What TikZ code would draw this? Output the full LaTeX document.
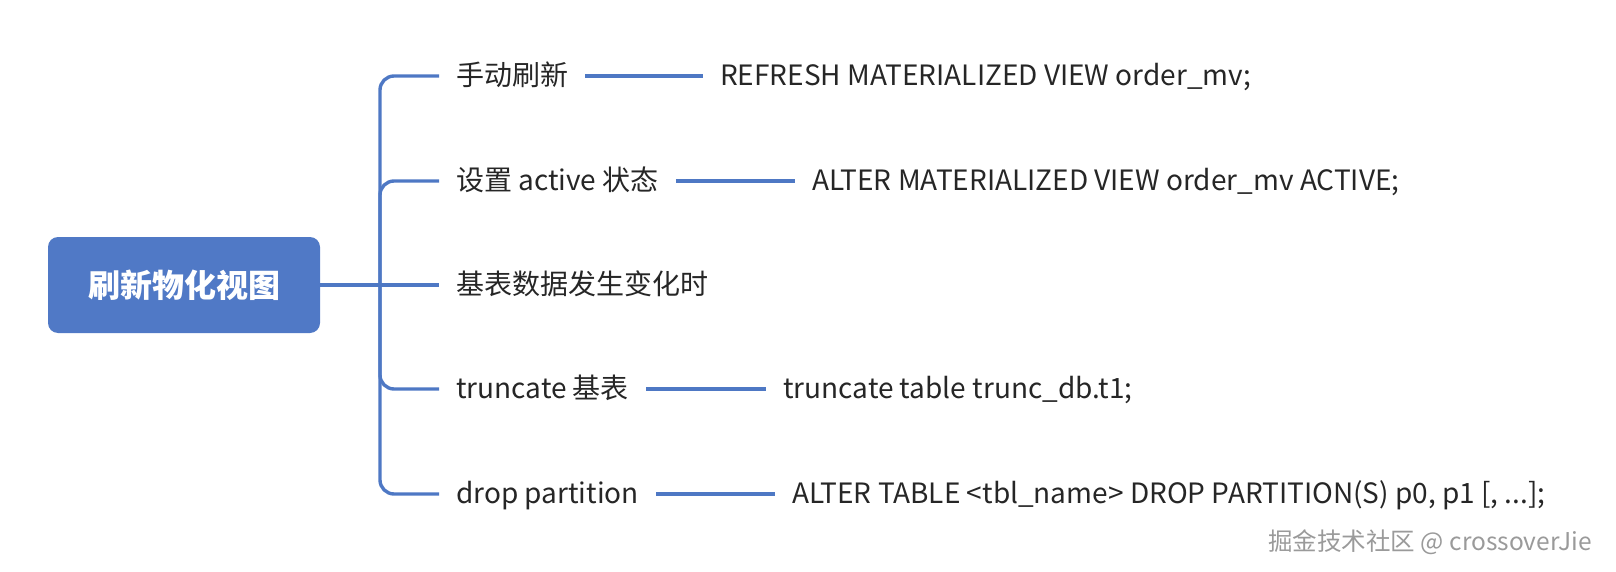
\documentclass[tikz,border=0pt]{standalone}
\usepackage{fontspec}
\setmainfont{Noto Sans CJK SC}
\definecolor{linec}{HTML}{4E78C4}
\definecolor{rootc}{HTML}{5079C6}
\definecolor{txtc}{HTML}{262626}
\definecolor{wmc}{HTML}{9A9A9A}
\begin{document}
\begin{tikzpicture}[x=1pt,y=-1pt,
  conn/.style={draw=linec, line width=3.4pt, rounded corners=14pt},
  lab/.style={anchor=west, inner xsep=17pt, inner ysep=0pt, text=txtc,
    font=\fontsize{28}{32}\selectfont, text height=19pt, text depth=0pt},
  rootbox/.style={fill=rootc, rounded corners=10pt, minimum width=272pt,
    minimum height=96pt, text=white, font=\fontsize{32}{36}\selectfont\bfseries},
  wmark/.style={text=wmc, font=\fontsize{24.5}{28}\selectfont}]
\useasboundingbox (0,0) rectangle (1616,572);
\node[rootbox] (root) at (184,285) {刷新物化视图};
\coordinate (spine) at (380,285);
\node[lab] (l1) at (439,76) {手动刷新};
\node[lab] (l2) at (439,181) {设置 active 状态};
\node[lab] (l3) at (439,285) {基表数据发生变化时};
\node[lab] (l4) at (439,389) {truncate 基表};
\node[lab] (l5) at (439,494) {drop partition};
\node[lab] (c1) at (703,76) {REFRESH MATERIALIZED VIEW order\_mv;};
\node[lab] (c2) at (795,181) {ALTER MATERIALIZED VIEW order\_mv ACTIVE;};
\node[lab] (c4) at (766,389) {truncate table trunc\_db.t1;};
\node[lab] (c5) at (775,494) {ALTER TABLE <tbl\_name> DROP PARTITION(S) p0, p1 [, ...];};
\draw[conn] (root.east) -- (spine) -- (l3.west);
\draw[conn] (spine) |- (l1.west);
\draw[conn] (spine) |- (l2.west);
\draw[conn] (spine) |- (l4.west);
\draw[conn] (spine) |- (l5.west);
\draw[conn] (l1.east) -- (c1.west);
\draw[conn] (l2.east) -- (c2.west);
\draw[conn] (l4.east) -- (c4.west);
\draw[conn] (l5.east) -- (c5.west);
\node[wmark] (wm) at (1430,542) {掘金技术社区 @ crossoverJie};
\end{tikzpicture}
\end{document}
